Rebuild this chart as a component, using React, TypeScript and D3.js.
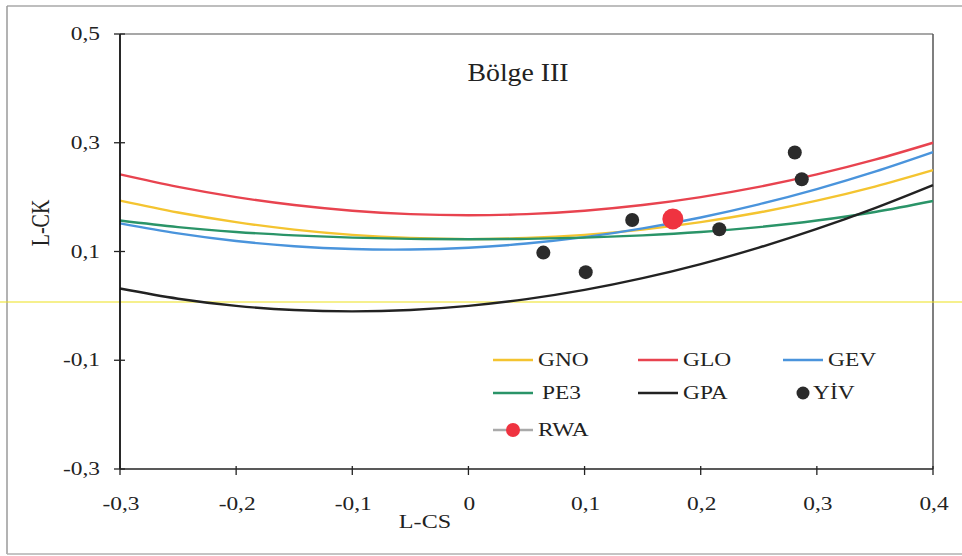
import React from "react";
import * as d3 from "d3";

const tau3 = [-0.3, -0.25, -0.2, -0.15, -0.1, -0.05, 0, 0.05, 0.1, 0.15, 0.2, 0.25, 0.3, 0.35, 0.4];
const gno = [0.1935, 0.1717, 0.154, 0.1403, 0.1306, 0.1248, 0.1228, 0.1248, 0.1306, 0.1403, 0.154, 0.1717, 0.1935, 0.2194, 0.2495];
const glo = [0.2417, 0.2188, 0.2, 0.1854, 0.175, 0.1688, 0.1667, 0.1688, 0.175, 0.1854, 0.2, 0.2188, 0.2417, 0.2688, 0.3];
const gev = [0.1517, 0.1334, 0.1193, 0.1097, 0.1045, 0.1036, 0.107, 0.1147, 0.1264, 0.1425, 0.1626, 0.1867, 0.2148, 0.2468, 0.2827];
const pe3 = [0.1569, 0.1448, 0.1359, 0.1297, 0.1255, 0.1232, 0.1224, 0.1232, 0.1255, 0.1297, 0.1359, 0.1448, 0.1569, 0.1727, 0.1929];
const gpa = [0.0319, 0.0132, 0, -0.0077, -0.0102, -0.0076, 0, 0.0124, 0.0294, 0.051, 0.0769, 0.1071, 0.1415, 0.1799, 0.2222];

const yivCS = [0.0645, 0.101, 0.141, 0.216, 0.281, 0.287];
const yivCK = [0.098, 0.062, 0.158, 0.141, 0.282, 0.233];
const rwaCS = [0.176];
const rwaCK = [0.16];

const xTicks = [-0.3, -0.2, -0.1, 0, 0.1, 0.2, 0.3, 0.4];
const yTicks = [-0.3, -0.1, 0.1, 0.3, 0.5];

const curves = [
  { name: "GNO", data: gno, color: "#F4C430" },
  { name: "GLO", data: glo, color: "#E8434F" },
  { name: "GEV", data: gev, color: "#4A94DC" },
  { name: "PE3", data: pe3, color: "#2A9468" },
  { name: "GPA", data: gpa, color: "#222222" },
];

const FONT = "Liberation Serif, DejaVu Serif, serif";
const SX = 1.3;
const fmt = (v: number) => (Math.abs(v) < 1e-9 ? "0" : d3.format(".1f")(v).replace(".", ",").replace("−", "-"));

function T(props: { x: number; y: number; sx?: number; size: number; anchor?: string; children: React.ReactNode }) {
  const { x, y, sx = SX, size, anchor = "start", children } = props;
  return (
    <text
      transform={`translate(${x},${y}) scale(${sx},1)`}
      fontSize={size}
      textAnchor={anchor}
      fill="#222"
      style={{ fontFamily: FONT }}
    >
      {children}
    </text>
  );
}

export default function App() {
  const W = 962, H = 556;
  const x = d3.scaleLinear().domain([-0.3, 0.4]).range([120, 933]);
  const y = d3.scaleLinear().domain([-0.3, 0.5]).range([469, 34]);
  const line = d3
    .line<[number, number]>()
    .x((d) => x(d[0]))
    .y((d) => y(d[1]))
    .curve(d3.curveCatmullRom.alpha(0.5));

  const legendItems = [
    { name: "GNO", type: "line", color: "#F4C430", lx: 493, tx: 538, ly: 360 },
    { name: "GLO", type: "line", color: "#E8434F", lx: 638, tx: 683, ly: 360 },
    { name: "GEV", type: "line", color: "#4A94DC", lx: 783, tx: 828, ly: 360 },
    { name: "PE3", type: "line", color: "#2A9468", lx: 493, tx: 542, ly: 393 },
    { name: "GPA", type: "line", color: "#222222", lx: 638, tx: 683, ly: 393 },
    { name: "YİV", type: "dot", color: "#2b2b2b", lx: 783, tx: 813, ly: 393 },
    { name: "RWA", type: "rwa", color: "#EF3340", lx: 493, tx: 538, ly: 430 },
  ];

  return (
    <svg width={W} height={H} style={{ position: "absolute", left: 0, top: 0, background: "#fff", fontFamily: FONT }}>
      <rect x={0} y={0} width={W} height={H} fill="#fff" />
      {/* outer frame */}
      <line x1={7} y1={6} x2={962} y2={6} stroke="#a8a8a8" strokeWidth={1.5} />
      <line x1={7} y1={6} x2={7} y2={554} stroke="#9a9a9a" strokeWidth={1.5} />
      <line x1={7} y1={554} x2={962} y2={554} stroke="#b0b0b0" strokeWidth={1.5} />
      {/* plot border */}
      <line x1={x(-0.3)} y1={y(0.5)} x2={x(0.4)} y2={y(0.5)} stroke="#8a8a8a" strokeWidth={1.3} />
      <line x1={x(0.4)} y1={y(0.5)} x2={x(0.4)} y2={y(-0.3)} stroke="#555" strokeWidth={1.5} />
      {/* yellow artifact line */}
      <line x1={0} y1={302} x2={W} y2={302} stroke="#EDE21C" strokeWidth={1.2} />
      {/* curves */}
      {curves.map((c) => (
        <path
          key={c.name}
          d={line(tau3.map((t, i) => [t, c.data[i]] as [number, number])) || ""}
          fill="none"
          stroke={c.color}
          strokeWidth={2.4}
        />
      ))}
      {/* axes */}
      <line x1={x(-0.3)} y1={y(-0.3)} x2={x(0.4)} y2={y(-0.3)} stroke="#222" strokeWidth={1.5} />
      <line x1={x(-0.3)} y1={y(-0.3)} x2={x(-0.3)} y2={y(0.5)} stroke="#111" strokeWidth={1.8} />
      {yTicks.map((t) => (
        <g key={"y" + t}>
          <line x1={x(-0.3) - 6} x2={x(-0.3) + 5} y1={y(t)} y2={y(t)} stroke="#222" strokeWidth={1.3} />
          <T x={100} y={y(t) + 6} size={18} anchor="end">{fmt(t)}</T>
        </g>
      ))}
      {xTicks.map((t) => (
        <g key={"x" + t}>
          <line x1={x(t)} x2={x(t)} y1={y(-0.3) - 3} y2={y(-0.3) + 6} stroke="#222" strokeWidth={1.3} />
          <T x={x(t) + 1} y={510} size={18} anchor="middle">{fmt(t)}</T>
        </g>
      ))}
      <T x={425} y={528} size={19} sx={1.27} anchor="middle">L-CS</T>
      <text
        transform="translate(49,223) rotate(-90) scale(1,1.3)"
        textAnchor="middle"
        fontSize={20}
        fill="#222"
        style={{ fontFamily: FONT }}
      >
        L-CK
      </text>
      <T x={518} y={81} size={26} sx={1.07} anchor="middle">Bölge III</T>
      {/* points */}
      {yivCS.map((cs, i) => (
        <circle key={"p" + i} cx={x(cs)} cy={y(yivCK[i])} r={7} fill="#2b2b2b" />
      ))}
      {rwaCS.map((cs, i) => (
        <circle key={"r" + i} cx={x(cs)} cy={y(rwaCK[i])} r={10.5} fill="#EF3340" />
      ))}
      {/* legend */}
      {legendItems.map((it) => (
        <g key={it.name}>
          {it.type === "line" && (
            <line x1={it.lx} x2={it.lx + 40} y1={it.ly} y2={it.ly} stroke={it.color} strokeWidth={2.4} />
          )}
          {it.type === "dot" && <circle cx={it.lx + 20} cy={it.ly} r={6.5} fill={it.color} />}
          {it.type === "rwa" && (
            <g>
              <line x1={it.lx} x2={it.lx + 40} y1={it.ly} y2={it.ly} stroke="#aaa" strokeWidth={2.4} />
              <circle cx={it.lx + 20} cy={it.ly} r={7} fill={it.color} />
            </g>
          )}
          <T x={it.tx} y={it.ly + 6} size={18}>{it.name}</T>
        </g>
      ))}
    </svg>
  );
}
